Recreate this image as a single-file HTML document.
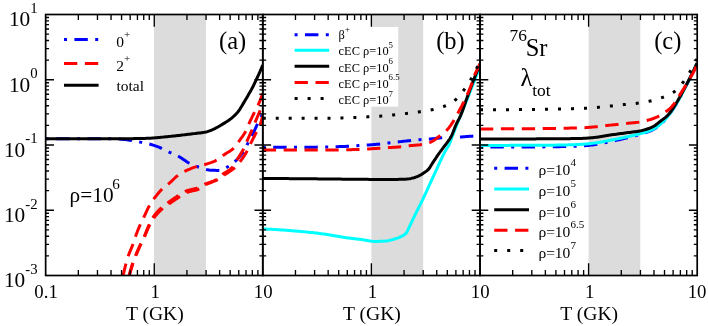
<!DOCTYPE html>
<html><head><meta charset="utf-8"><title>chart</title>
<style>
html,body{margin:0;padding:0;background:#fff;}
body{width:708px;height:326px;overflow:hidden;font-family:"Liberation Serif",serif;}
svg{display:block;will-change:transform;}
</style></head>
<body>
<svg width="708" height="326" viewBox="0 0 708 326" font-family="Liberation Serif, serif" fill="#000">
<defs>
<clipPath id="cp0"><rect x="45.65" y="14.5" width="217.12999999999997" height="261.0"/></clipPath>
<clipPath id="cp1"><rect x="262.78" y="14.5" width="217.22000000000003" height="261.0"/></clipPath>
<clipPath id="cp2"><rect x="480.0" y="14.5" width="217.20000000000005" height="261.0"/></clipPath>
</defs>
<rect width="708" height="326" fill="#fff"/>
<rect x="154.00" y="14.5" width="51.90" height="261.0" fill="#dcdcdc"/>
<rect x="371.40" y="14.5" width="51.75" height="261.0" fill="#dcdcdc"/>
<rect x="588.60" y="14.5" width="51.70" height="261.0" fill="#dcdcdc"/>
<rect x="288" y="27" width="110.2" height="79.6" fill="#fff"/>
<path d="M45.80,138.80 L47.30,138.80 L48.80,138.80 L50.30,138.80 L51.80,138.80 L53.30,138.80 L54.80,138.80 L56.30,138.80 L57.80,138.80 L59.30,138.80 L60.80,138.80 L62.30,138.80 L63.80,138.80 L65.30,138.80 L66.80,138.80 L68.30,138.80 L69.80,138.80 L71.30,138.80 L72.80,138.80 L74.30,138.80 L75.80,138.80 L77.30,138.80 L78.80,138.80 L80.30,138.80 L81.80,138.80 L83.30,138.80 L84.80,138.80 L86.30,138.80 L87.80,138.80 L89.30,138.80 L90.80,138.80 L92.30,138.80 L93.80,138.80 L95.30,138.80 L96.80,138.80 L98.30,138.80 L99.80,138.80 L101.30,138.80 L102.80,138.80 L104.30,138.80 L105.80,138.80 L107.30,138.80 L108.80,138.80 L110.30,138.80 L111.80,138.81 L113.30,138.84 L114.80,138.87 L116.30,138.92 L117.80,138.97 L119.30,139.04 L120.79,139.15 L122.29,139.30 L123.78,139.46 L125.27,139.63 L126.76,139.82 L128.24,140.03 L129.73,140.25 L131.21,140.49 L132.69,140.73 L134.16,140.98 L135.64,141.25 L137.12,141.53 L138.59,141.81 L140.06,142.10 L141.53,142.38 L143.01,142.67 L144.48,142.95 L145.95,143.26 L147.42,143.57 L148.88,143.92 L150.32,144.30 L151.76,144.73 L153.19,145.19 L154.62,145.67 L156.03,146.16 L157.44,146.67 L158.85,147.21 L160.24,147.76 L161.62,148.34 L162.99,148.95 L164.34,149.60 L165.68,150.28 L167.01,150.97 L168.35,151.65 L169.71,152.30 L171.08,152.91 L172.46,153.49 L173.85,154.07 L175.23,154.67 L176.59,155.29 L177.92,155.97 L179.22,156.71 L180.48,157.51 L181.74,158.34 L182.99,159.17 L184.25,159.99 L185.49,160.85 L186.74,161.70 L188.00,162.51 L189.29,163.25 L190.62,163.91 L191.98,164.54 L193.37,165.13 L194.77,165.70 L196.17,166.24 L197.58,166.76 L198.99,167.28 L200.40,167.80 L201.83,168.31 L203.26,168.77 L204.70,169.18 L206.15,169.49 L207.62,169.75 L209.11,169.98 L210.61,170.17 L212.10,170.29 L213.60,170.33 L215.11,170.36 L216.62,170.39 L218.11,170.40 L219.59,170.35 L221.05,170.02 L222.50,169.50 L223.90,168.94 L225.25,168.32 L226.56,167.56 L227.84,166.78 L229.12,165.99 L230.38,165.16 L231.60,164.30 L232.78,163.38 L233.93,162.42 L235.05,161.41 L236.13,160.38 L237.19,159.31 L238.22,158.22 L239.23,157.10 L240.20,155.96 L241.16,154.81 L242.10,153.63 L242.99,152.42 L243.80,151.17 L244.54,149.88 L245.25,148.56 L245.93,147.21 L246.59,145.86 L247.27,144.51 L247.96,143.18 L248.68,141.86 L249.41,140.55 L250.13,139.24 L250.86,137.92 L251.57,136.60 L252.26,135.27 L252.93,133.93 L253.57,132.58 L254.20,131.22 L254.81,129.85 L255.43,128.48 L256.04,127.11 L256.67,125.74 L257.31,124.39 L257.97,123.04 L258.65,121.71 L259.35,120.38 L260.04,119.05 L260.73,117.72 L261.42,116.38 L262.08,115.03 L262.72,113.68 L262.80,113.50" fill="none" stroke="#0000ff" stroke-width="3.0" stroke-linejoin="round" stroke-dasharray="3.0 7.4 13.4 7.4" stroke-dashoffset="0.00" clip-path="url(#cp0)"/>
<path d="M121.30,283.00 L121.65,281.54 L122.00,280.08 L122.35,278.62 L122.70,277.17 L123.05,275.71 L123.40,274.25 L123.74,272.79 L124.08,271.33 L124.42,269.86 L124.77,268.40 L125.12,266.95 L125.48,265.49 L125.85,264.04 L126.24,262.59 L126.64,261.14 L127.06,259.70 L127.49,258.26 L127.95,256.84 L128.45,255.43 L128.97,254.02 L129.52,252.63 L130.09,251.24 L130.67,249.85 L131.25,248.47 L131.83,247.08 L132.39,245.69 L132.93,244.29 L133.44,242.88 L133.92,241.46 L134.37,240.03 L134.83,238.60 L135.30,237.17 L135.81,235.76 L136.32,234.35 L136.84,232.95 L137.38,231.54 L137.92,230.14 L138.48,228.75 L139.05,227.36 L139.63,225.97 L140.22,224.60 L140.83,223.23 L141.47,221.88 L142.15,220.54 L142.84,219.20 L143.52,217.87 L144.17,216.52 L144.81,215.15 L145.44,213.79 L146.06,212.41 L146.69,211.05 L147.32,209.68 L147.97,208.33 L148.65,207.00 L149.36,205.68 L150.10,204.39 L150.89,203.12 L151.72,201.87 L152.58,200.63 L153.46,199.42 L154.36,198.22 L155.27,197.03 L156.20,195.84 L157.13,194.66 L158.09,193.49 L159.07,192.34 L160.07,191.21 L161.08,190.11 L162.13,189.04 L163.20,188.02 L164.33,187.05 L165.51,186.12 L166.72,185.22 L167.92,184.32 L169.10,183.38 L170.24,182.40 L171.34,181.38 L172.44,180.33 L173.52,179.28 L174.61,178.24 L175.72,177.22 L176.85,176.24 L178.01,175.32 L179.22,174.47 L180.48,173.66 L181.78,172.89 L183.10,172.15 L184.44,171.46 L185.78,170.82 L187.14,170.20 L188.52,169.60 L189.90,169.02 L191.30,168.46 L192.71,167.93 L194.13,167.42 L195.56,166.94 L196.99,166.49 L198.42,166.07 L199.87,165.70 L201.34,165.38 L202.81,165.07 L204.27,164.72 L205.71,164.31 L207.15,163.88 L208.60,163.42 L210.05,162.94 L211.48,162.43 L212.89,161.88 L214.28,161.30 L215.64,160.69 L216.96,160.04 L218.23,159.33 L219.44,158.47 L220.61,157.52 L221.77,156.53 L222.95,155.58 L224.18,154.71 L225.45,153.88 L226.74,153.07 L228.04,152.28 L229.33,151.47 L230.59,150.64 L231.81,149.78 L232.96,148.86 L234.02,147.88 L235.01,146.80 L235.95,145.63 L236.84,144.40 L237.71,143.15 L238.58,141.91 L239.45,140.69 L240.33,139.47 L241.21,138.24 L242.08,137.01 L242.93,135.76 L243.75,134.51 L244.54,133.23 L245.29,131.94 L245.99,130.63 L246.63,129.28 L247.22,127.90 L247.79,126.51 L248.36,125.12 L248.95,123.73 L249.57,122.37 L250.21,121.01 L250.85,119.66 L251.50,118.31 L252.16,116.96 L252.82,115.61 L253.48,114.26 L254.15,112.92 L254.81,111.57 L255.49,110.23 L256.18,108.90 L256.87,107.57 L257.54,106.23 L258.19,104.88 L258.80,103.51 L259.39,102.13 L259.96,100.74 L260.51,99.35 L261.06,97.95 L261.60,96.55 L262.15,95.15 L262.70,93.76 L262.80,93.50" fill="none" stroke="#ff0000" stroke-width="3.0" stroke-linejoin="round" stroke-dasharray="13.3 7.6" stroke-dashoffset="14.24" clip-path="url(#cp0)"/>
<path d="M126.80,283.00 L127.23,281.56 L127.66,280.13 L128.10,278.69 L128.53,277.25 L128.96,275.82 L129.38,274.38 L129.80,272.94 L130.21,271.49 L130.62,270.05 L131.04,268.61 L131.46,267.17 L131.89,265.73 L132.34,264.30 L132.81,262.88 L133.30,261.46 L133.82,260.05 L134.35,258.65 L134.90,257.25 L135.46,255.86 L136.03,254.48 L136.61,253.10 L137.21,251.72 L137.81,250.34 L138.42,248.97 L139.03,247.60 L139.65,246.23 L140.27,244.87 L140.89,243.50 L141.52,242.14 L142.17,240.79 L142.82,239.44 L143.46,238.08 L144.08,236.72 L144.68,235.34 L145.26,233.96 L145.83,232.57 L146.39,231.17 L146.95,229.78 L147.52,228.39 L148.10,227.01 L148.70,225.63 L149.32,224.27 L149.96,222.92 L150.62,221.56 L151.31,220.21 L152.04,218.91 L152.83,217.65 L153.67,216.43 L154.55,215.21 L155.48,214.02 L156.45,212.85 L157.45,211.71 L158.48,210.60 L159.53,209.52 L160.60,208.48 L161.68,207.47 L162.83,206.52 L164.01,205.61 L165.23,204.72 L166.47,203.84 L167.69,202.97 L168.91,202.08 L170.12,201.21 L171.34,200.33 L172.57,199.46 L173.80,198.60 L175.03,197.75 L176.27,196.90 L177.52,196.07 L178.77,195.25 L180.03,194.42 L181.28,193.56 L182.55,192.72 L183.84,191.95 L185.16,191.30 L186.53,190.78 L187.94,190.33 L189.39,189.94 L190.86,189.59 L192.35,189.25 L193.83,188.91 L195.30,188.54 L196.74,188.13 L198.15,187.66 L199.52,187.08 L200.85,186.39 L202.16,185.65 L203.48,184.91 L204.83,184.24 L206.21,183.65 L207.63,183.10 L209.07,182.58 L210.52,182.08 L211.95,181.57 L213.37,181.04 L214.75,180.47 L216.08,179.85 L217.35,179.15 L218.53,178.33 L219.63,177.32 L220.68,176.21 L221.75,175.11 L222.87,174.10 L224.08,173.23 L225.36,172.44 L226.67,171.68 L227.97,170.91 L229.22,170.09 L230.39,169.18 L231.53,168.19 L232.62,167.12 L233.61,166.00 L234.47,164.81 L235.22,163.53 L235.92,162.18 L236.60,160.82 L237.31,159.50 L238.07,158.20 L238.86,156.92 L239.65,155.64 L240.45,154.37 L241.24,153.09 L242.01,151.80 L242.77,150.51 L243.49,149.20 L244.16,147.87 L244.80,146.51 L245.39,145.14 L245.97,143.75 L246.53,142.36 L247.10,140.97 L247.69,139.59 L248.29,138.21 L248.90,136.84 L249.52,135.47 L250.13,134.10 L250.74,132.73 L251.35,131.36 L251.95,129.99 L252.54,128.61 L253.12,127.23 L253.69,125.84 L254.25,124.45 L254.81,123.06 L255.38,121.67 L255.96,120.28 L256.54,118.90 L257.13,117.52 L257.72,116.15 L258.32,114.77 L258.91,113.39 L259.50,112.01 L260.09,110.63 L260.66,109.25 L261.24,107.86 L261.80,106.47 L262.37,105.08 L262.80,104.00" fill="none" stroke="#ff0000" stroke-width="3.0" stroke-linejoin="round" stroke-dasharray="13.3 7.6" stroke-dashoffset="13.20" clip-path="url(#cp0)"/>
<path d="M127.10,283.00 L127.53,281.56 L127.96,280.13 L128.40,278.69 L128.83,277.25 L129.26,275.82 L129.68,274.38 L130.10,272.94 L130.51,271.49 L130.92,270.05 L131.34,268.61 L131.76,267.17 L132.19,265.73 L132.64,264.30 L133.11,262.88 L133.60,261.46 L134.12,260.05 L134.65,258.65 L135.20,257.25 L135.76,255.86 L136.33,254.48 L136.91,253.09 L137.50,251.71 L138.10,250.34 L138.70,248.96 L139.32,247.60 L139.94,246.23 L140.56,244.86 L141.19,243.50 L141.84,242.15 L142.50,240.80 L143.16,239.46 L143.82,238.11 L144.47,236.76 L145.09,235.39 L145.68,234.01 L146.27,232.63 L146.85,231.24 L147.43,229.85 L148.03,228.47 L148.64,227.11 L149.27,225.75 L149.94,224.41 L150.64,223.09 L151.38,221.77 L152.15,220.48 L152.97,219.22 L153.83,218.01 L154.73,216.82 L155.67,215.65 L156.65,214.50 L157.66,213.37 L158.70,212.26 L159.76,211.19 L160.84,210.15 L161.94,209.15 L163.06,208.18 L164.24,207.27 L165.46,206.39 L166.70,205.52 L167.95,204.67 L169.18,203.81 L170.41,202.95 L171.64,202.09 L172.87,201.24 L174.11,200.39 L175.35,199.55 L176.60,198.72 L177.85,197.89 L179.11,197.07 L180.37,196.26 L181.63,195.41 L182.89,194.56 L184.16,193.75 L185.46,193.03 L186.81,192.44 L188.21,191.97 L189.66,191.56 L191.14,191.21 L192.63,190.88 L194.13,190.55 L195.61,190.20 L197.06,189.80 L198.45,189.34 L199.78,188.77 L201.03,187.99 L202.23,187.06 L203.43,186.10 L204.66,185.22 L205.96,184.50 L207.31,183.87 L208.70,183.30 L210.11,182.76 L211.54,182.23 L212.96,181.71 L214.37,181.17 L215.76,180.60 L217.11,179.97 L218.41,179.27 L219.65,178.46 L220.86,177.56 L222.06,176.64 L223.26,175.73 L224.49,174.87 L225.75,174.04 L227.02,173.24 L228.28,172.43 L229.54,171.61 L230.77,170.76 L231.98,169.88 L233.19,168.97 L234.36,168.02 L235.47,167.03 L236.52,165.97 L237.53,164.86 L238.50,163.70 L239.44,162.53 L240.35,161.34 L241.25,160.14 L242.13,158.92 L242.99,157.69 L243.84,156.44 L244.66,155.18 L245.45,153.90 L246.21,152.61 L246.95,151.31 L247.63,149.99 L248.28,148.64 L248.90,147.27 L249.51,145.89 L250.14,144.53 L250.80,143.18 L251.47,141.84 L252.15,140.50 L252.83,139.16 L253.51,137.83 L254.20,136.49 L254.89,135.16 L255.58,133.83 L256.29,132.51 L257.03,131.19 L257.78,129.88 L258.50,128.56 L259.17,127.23 L259.75,125.86 L260.26,124.46 L260.71,123.03 L261.14,121.59 L261.56,120.14 L261.99,118.70 L262.42,117.26 L262.80,116.00" fill="none" stroke="#ff0000" stroke-width="3.0" stroke-linejoin="round" stroke-dasharray="13.3 7.6" stroke-dashoffset="13.20" clip-path="url(#cp0)"/>
<path d="M45.80,138.80 L47.30,138.80 L48.80,138.80 L50.30,138.80 L51.80,138.80 L53.30,138.80 L54.80,138.80 L56.30,138.80 L57.80,138.80 L59.30,138.80 L60.80,138.80 L62.30,138.80 L63.80,138.80 L65.30,138.80 L66.80,138.80 L68.30,138.80 L69.80,138.80 L71.30,138.80 L72.80,138.80 L74.30,138.80 L75.80,138.80 L77.30,138.80 L78.80,138.80 L80.30,138.80 L81.80,138.80 L83.30,138.80 L84.80,138.80 L86.30,138.80 L87.80,138.80 L89.30,138.80 L90.80,138.80 L92.30,138.80 L93.80,138.80 L95.30,138.80 L96.80,138.80 L98.30,138.80 L99.80,138.80 L101.30,138.80 L102.80,138.80 L104.30,138.80 L105.80,138.80 L107.30,138.80 L108.80,138.80 L110.30,138.80 L111.80,138.80 L113.30,138.80 L114.80,138.80 L116.30,138.80 L117.80,138.80 L119.30,138.80 L120.80,138.80 L122.30,138.79 L123.80,138.78 L125.30,138.76 L126.80,138.74 L128.30,138.72 L129.80,138.69 L131.30,138.67 L132.80,138.64 L134.30,138.61 L135.80,138.59 L137.30,138.56 L138.80,138.53 L140.30,138.50 L141.80,138.46 L143.30,138.42 L144.80,138.38 L146.30,138.33 L147.80,138.28 L149.29,138.23 L150.79,138.16 L152.29,138.08 L153.78,137.98 L155.28,137.86 L156.77,137.72 L158.27,137.58 L159.76,137.43 L161.25,137.28 L162.75,137.12 L164.24,136.97 L165.73,136.83 L167.23,136.68 L168.72,136.53 L170.21,136.38 L171.70,136.22 L173.19,136.06 L174.68,135.89 L176.18,135.73 L177.67,135.56 L179.16,135.40 L180.65,135.23 L182.14,135.06 L183.63,134.88 L185.12,134.71 L186.61,134.53 L188.10,134.35 L189.59,134.17 L191.07,133.99 L192.56,133.80 L194.05,133.62 L195.54,133.43 L197.04,133.26 L198.53,133.10 L200.03,132.93 L201.52,132.75 L203.00,132.54 L204.47,132.30 L205.93,132.00 L207.38,131.59 L208.81,131.11 L210.22,130.59 L211.62,130.06 L213.00,129.47 L214.36,128.83 L215.70,128.15 L217.02,127.45 L218.33,126.71 L219.62,125.95 L220.90,125.16 L222.19,124.39 L223.48,123.62 L224.77,122.85 L226.05,122.07 L227.31,121.26 L228.55,120.42 L229.78,119.55 L230.98,118.65 L232.16,117.72 L233.29,116.74 L234.39,115.72 L235.46,114.66 L236.50,113.57 L237.49,112.44 L238.41,111.27 L239.27,110.06 L240.09,108.81 L240.88,107.53 L241.66,106.23 L242.43,104.93 L243.21,103.65 L243.99,102.37 L244.76,101.08 L245.52,99.79 L246.27,98.49 L247.02,97.19 L247.77,95.89 L248.53,94.60 L249.29,93.30 L250.04,92.00 L250.79,90.70 L251.52,89.39 L252.22,88.07 L252.91,86.74 L253.57,85.39 L254.23,84.04 L254.87,82.69 L255.51,81.33 L256.15,79.97 L256.78,78.61 L257.41,77.25 L258.04,75.89 L258.65,74.52 L259.27,73.15 L259.88,71.78 L260.48,70.41 L261.08,69.03 L261.67,67.65 L262.26,66.27 L262.80,65.00" fill="none" stroke="#000" stroke-width="3.0" stroke-linejoin="round" clip-path="url(#cp0)"/>
<path d="M262.80,147.20 L264.30,147.20 L265.80,147.20 L267.30,147.20 L268.80,147.20 L270.30,147.20 L271.80,147.20 L273.30,147.20 L274.80,147.20 L276.30,147.20 L277.80,147.20 L279.30,147.20 L280.80,147.20 L282.30,147.20 L283.80,147.20 L285.30,147.20 L286.80,147.20 L288.30,147.20 L289.80,147.20 L291.30,147.20 L292.80,147.20 L294.30,147.20 L295.80,147.20 L297.30,147.20 L298.80,147.20 L300.30,147.20 L301.80,147.20 L303.30,147.20 L304.80,147.19 L306.30,147.19 L307.80,147.18 L309.30,147.17 L310.80,147.17 L312.30,147.16 L313.80,147.15 L315.30,147.14 L316.80,147.13 L318.30,147.11 L319.80,147.10 L321.30,147.09 L322.80,147.07 L324.30,147.04 L325.80,147.01 L327.30,146.98 L328.80,146.95 L330.30,146.91 L331.80,146.86 L333.30,146.82 L334.80,146.77 L336.30,146.72 L337.80,146.68 L339.29,146.62 L340.79,146.57 L342.29,146.51 L343.79,146.45 L345.29,146.38 L346.79,146.30 L348.28,146.22 L349.78,146.13 L351.28,146.04 L352.78,145.95 L354.27,145.86 L355.77,145.77 L357.27,145.67 L358.77,145.58 L360.26,145.48 L361.76,145.39 L363.26,145.30 L364.75,145.20 L366.25,145.10 L367.75,145.00 L369.25,144.90 L370.74,144.79 L372.24,144.68 L373.73,144.57 L375.23,144.44 L376.72,144.32 L378.22,144.18 L379.71,144.03 L381.20,143.85 L382.68,143.67 L384.17,143.48 L385.66,143.29 L387.15,143.10 L388.64,142.93 L390.13,142.76 L391.62,142.59 L393.11,142.43 L394.60,142.27 L396.10,142.11 L397.59,141.94 L399.08,141.78 L400.57,141.62 L402.06,141.45 L403.55,141.29 L405.04,141.12 L406.53,140.96 L408.02,140.80 L409.52,140.65 L411.01,140.50 L412.50,140.35 L414.00,140.21 L415.49,140.08 L416.98,139.95 L418.48,139.82 L419.97,139.70 L421.47,139.59 L422.97,139.49 L424.46,139.39 L425.96,139.29 L427.46,139.19 L428.95,139.08 L430.45,138.96 L431.94,138.82 L433.43,138.66 L434.92,138.49 L436.42,138.32 L437.91,138.16 L439.40,138.01 L440.89,137.88 L442.39,137.78 L443.88,137.69 L445.38,137.61 L446.88,137.54 L448.38,137.48 L449.88,137.42 L451.38,137.37 L452.88,137.31 L454.38,137.25 L455.88,137.19 L457.37,137.13 L458.87,137.06 L460.37,136.98 L461.87,136.89 L463.36,136.78 L464.86,136.67 L466.36,136.56 L467.85,136.44 L469.35,136.33 L470.84,136.23 L472.34,136.14 L473.84,136.06 L475.34,135.99 L476.84,135.92 L478.33,135.86 L479.83,135.81 L480.00,135.80" fill="none" stroke="#0000ff" stroke-width="3.0" stroke-linejoin="round" stroke-dasharray="3.0 7.4 13.4 7.4" stroke-dashoffset="0.00" clip-path="url(#cp1)"/>
<path d="M262.80,229.00 L264.30,229.05 L265.81,229.10 L267.31,229.16 L268.81,229.22 L270.31,229.29 L271.81,229.36 L273.31,229.44 L274.81,229.52 L276.31,229.61 L277.81,229.70 L279.31,229.79 L280.81,229.89 L282.30,229.99 L283.80,230.09 L285.30,230.20 L286.79,230.31 L288.29,230.43 L289.78,230.55 L291.28,230.67 L292.77,230.79 L294.27,230.92 L295.76,231.05 L297.26,231.18 L298.75,231.31 L300.24,231.45 L301.74,231.59 L303.23,231.73 L304.72,231.87 L306.21,232.01 L307.70,232.16 L309.19,232.30 L310.68,232.45 L312.17,232.60 L313.66,232.75 L315.15,232.91 L316.64,233.08 L318.12,233.26 L319.61,233.46 L321.09,233.67 L322.58,233.88 L324.06,234.10 L325.54,234.33 L327.02,234.56 L328.51,234.80 L329.99,235.04 L331.47,235.29 L332.95,235.54 L334.43,235.78 L335.91,236.03 L337.39,236.28 L338.88,236.53 L340.36,236.77 L341.84,237.01 L343.32,237.24 L344.81,237.47 L346.29,237.69 L347.78,237.90 L349.26,238.10 L350.75,238.30 L352.24,238.48 L353.73,238.66 L355.22,238.83 L356.71,239.01 L358.20,239.18 L359.69,239.36 L361.17,239.56 L362.66,239.79 L364.15,240.04 L365.63,240.29 L367.12,240.55 L368.60,240.79 L370.09,241.01 L371.58,241.19 L373.07,241.32 L374.56,241.39 L376.05,241.40 L377.55,241.38 L379.06,241.34 L380.56,241.29 L382.06,241.22 L383.56,241.15 L385.04,241.06 L386.53,240.91 L388.01,240.67 L389.49,240.38 L390.97,240.02 L392.43,239.63 L393.88,239.21 L395.32,238.77 L396.74,238.32 L398.15,237.83 L399.55,237.26 L400.92,236.62 L402.26,235.92 L403.54,235.17 L404.82,234.33 L405.98,233.36 L406.83,232.22 L407.50,230.88 L408.11,229.46 L408.75,228.09 L409.41,226.74 L410.06,225.39 L410.70,224.03 L411.35,222.68 L411.99,221.32 L412.63,219.97 L413.27,218.61 L413.92,217.26 L414.57,215.90 L415.22,214.55 L415.88,213.21 L416.55,211.86 L417.22,210.52 L417.89,209.18 L418.57,207.84 L419.24,206.50 L419.92,205.16 L420.59,203.82 L421.26,202.48 L421.92,201.13 L422.57,199.78 L423.22,198.43 L423.86,197.07 L424.50,195.72 L425.13,194.36 L425.76,192.99 L426.39,191.63 L427.01,190.27 L427.63,188.90 L428.25,187.54 L428.87,186.17 L429.49,184.80 L430.12,183.44 L430.74,182.07 L431.36,180.71 L431.99,179.35 L432.61,177.98 L433.24,176.62 L433.87,175.26 L434.50,173.90 L435.13,172.54 L435.76,171.18 L436.39,169.81 L437.01,168.45 L437.62,167.08 L438.23,165.71 L438.85,164.34 L439.48,162.98 L440.12,161.62 L440.76,160.26 L441.40,158.91 L442.04,157.55 L442.69,156.19 L443.35,154.85 L444.03,153.51 L444.72,152.17 L445.43,150.86 L446.16,149.55 L446.98,148.29 L447.81,147.03 L448.57,145.75 L449.22,144.41 L449.81,143.05 L450.37,141.65 L450.90,140.25 L451.41,138.83 L451.92,137.41 L452.43,135.99 L452.97,134.59 L453.51,133.19 L454.06,131.79 L454.60,130.39 L455.15,129.00 L455.69,127.60 L456.24,126.20 L456.79,124.80 L457.34,123.41 L457.89,122.02 L458.45,120.62 L459.01,119.23 L459.57,117.84 L460.13,116.45 L460.69,115.06 L461.26,113.67 L461.82,112.28 L462.39,110.89 L462.96,109.50 L463.52,108.11 L464.09,106.72 L464.65,105.33 L465.21,103.94 L465.78,102.55 L466.34,101.16 L466.89,99.77 L467.45,98.37 L468.00,96.98 L468.56,95.59 L469.11,94.19 L469.66,92.80 L470.21,91.40 L470.76,90.01 L471.31,88.61 L471.86,87.21 L472.41,85.82 L472.96,84.42 L473.51,83.03 L474.05,81.63 L474.60,80.23 L475.15,78.84 L475.70,77.44 L476.25,76.05 L476.80,74.65 L477.35,73.26 L477.90,71.86 L478.45,70.46 L478.99,69.07 L479.54,67.67 L480.00,66.50" fill="none" stroke="#00ffff" stroke-width="3.0" stroke-linejoin="round" clip-path="url(#cp1)"/>
<path d="M262.80,178.40 L264.30,178.41 L265.80,178.43 L267.30,178.44 L268.80,178.45 L270.30,178.47 L271.80,178.48 L273.30,178.49 L274.80,178.51 L276.30,178.52 L277.80,178.53 L279.30,178.54 L280.80,178.56 L282.30,178.57 L283.80,178.58 L285.30,178.60 L286.80,178.61 L288.30,178.62 L289.80,178.64 L291.30,178.65 L292.80,178.66 L294.30,178.68 L295.80,178.69 L297.30,178.70 L298.80,178.72 L300.30,178.73 L301.80,178.74 L303.30,178.75 L304.80,178.77 L306.30,178.78 L307.80,178.79 L309.30,178.81 L310.80,178.82 L312.30,178.83 L313.80,178.85 L315.30,178.86 L316.80,178.87 L318.30,178.89 L319.80,178.90 L321.30,178.91 L322.80,178.93 L324.30,178.94 L325.80,178.95 L327.30,178.97 L328.80,178.99 L330.30,179.00 L331.80,179.02 L333.30,179.04 L334.80,179.05 L336.30,179.07 L337.80,179.09 L339.30,179.10 L340.80,179.12 L342.30,179.14 L343.80,179.16 L345.30,179.17 L346.80,179.19 L348.30,179.21 L349.80,179.22 L351.30,179.24 L352.80,179.25 L354.30,179.27 L355.80,179.28 L357.30,179.30 L358.80,179.31 L360.30,179.32 L361.80,179.33 L363.30,179.34 L364.80,179.35 L366.30,179.36 L367.80,179.37 L369.30,179.38 L370.80,179.39 L372.30,179.39 L373.80,179.39 L375.30,179.40 L376.80,179.40 L378.30,179.40 L379.80,179.40 L381.30,179.40 L382.80,179.40 L384.30,179.40 L385.80,179.40 L387.30,179.40 L388.80,179.40 L390.30,179.40 L391.80,179.40 L393.30,179.40 L394.80,179.40 L396.30,179.40 L397.80,179.38 L399.30,179.35 L400.80,179.31 L402.30,179.26 L403.80,179.20 L405.30,179.13 L406.79,179.05 L408.28,178.89 L409.77,178.66 L411.25,178.38 L412.72,178.06 L414.16,177.70 L415.59,177.22 L417.00,176.67 L418.37,176.07 L419.71,175.42 L421.02,174.69 L422.31,173.90 L423.57,173.07 L424.81,172.23 L426.05,171.37 L427.27,170.45 L428.35,169.45 L429.27,168.31 L430.10,167.07 L430.89,165.76 L431.67,164.46 L432.50,163.20 L433.33,161.95 L434.16,160.70 L434.99,159.45 L435.81,158.20 L436.65,156.95 L437.48,155.70 L438.33,154.46 L439.18,153.23 L440.04,152.00 L440.92,150.79 L441.82,149.59 L442.74,148.40 L443.65,147.21 L444.54,146.00 L445.45,144.80 L446.37,143.60 L447.29,142.40 L448.19,141.19 L449.06,139.96 L449.89,138.72 L450.65,137.45 L451.34,136.15 L451.98,134.80 L452.57,133.43 L453.13,132.04 L453.67,130.63 L454.20,129.22 L454.74,127.80 L455.29,126.40 L455.88,125.01 L456.51,123.65 L457.18,122.31 L457.88,120.98 L458.59,119.66 L459.29,118.33 L459.95,116.98 L460.56,115.62 L461.14,114.24 L461.69,112.86 L462.23,111.46 L462.75,110.05 L463.25,108.64 L463.75,107.22 L464.24,105.80 L464.72,104.38 L465.21,102.95 L465.70,101.53 L466.19,100.11 L466.69,98.69 L467.20,97.28 L467.71,95.87 L468.23,94.47 L468.75,93.06 L469.27,91.65 L469.79,90.24 L470.31,88.84 L470.83,87.43 L471.35,86.02 L471.88,84.62 L472.41,83.22 L472.94,81.81 L473.47,80.41 L474.01,79.01 L474.55,77.61 L475.10,76.22 L475.65,74.82 L476.21,73.43 L476.77,72.04 L477.33,70.65 L477.89,69.25 L478.45,67.86 L479.01,66.47 L479.57,65.08 L480.00,64.00" fill="none" stroke="#000" stroke-width="3.0" stroke-linejoin="round" clip-path="url(#cp1)"/>
<path d="M262.78,150.00 L264.28,150.00 L265.78,150.00 L267.28,150.00 L268.78,150.00 L270.28,150.00 L271.78,150.00 L273.28,150.00 L274.78,150.00 L276.28,150.00 L277.78,150.00 L279.28,150.00 L280.78,150.00 L282.28,150.00 L283.78,150.00 L285.28,150.00 L286.78,150.00 L288.28,150.00 L289.78,150.00 L291.28,150.00 L292.78,150.00 L294.28,150.00 L295.78,150.00 L297.28,150.00 L298.78,150.00 L300.28,150.00 L301.78,150.00 L303.28,150.00 L304.78,150.00 L306.28,150.00 L307.78,150.00 L309.28,150.00 L310.78,150.00 L312.28,150.00 L313.78,150.00 L315.28,150.00 L316.78,150.00 L318.28,150.00 L319.78,150.00 L321.28,150.00 L322.78,150.00 L324.28,150.00 L325.78,150.00 L327.28,150.00 L328.78,150.00 L330.28,150.00 L331.78,150.00 L333.28,149.99 L334.78,149.98 L336.28,149.96 L337.78,149.95 L339.28,149.93 L340.78,149.90 L342.28,149.87 L343.78,149.84 L345.28,149.81 L346.78,149.78 L348.28,149.74 L349.78,149.70 L351.28,149.66 L352.78,149.62 L354.28,149.58 L355.78,149.53 L357.28,149.48 L358.78,149.44 L360.27,149.39 L361.77,149.33 L363.27,149.27 L364.77,149.19 L366.26,149.10 L367.76,149.00 L369.26,148.90 L370.76,148.80 L372.25,148.69 L373.75,148.59 L375.25,148.48 L376.74,148.38 L378.24,148.29 L379.74,148.19 L381.23,148.10 L382.73,148.00 L384.23,147.91 L385.73,147.81 L387.22,147.72 L388.72,147.62 L390.22,147.54 L391.72,147.45 L393.21,147.37 L394.71,147.28 L396.21,147.19 L397.71,147.10 L399.20,146.99 L400.70,146.87 L402.19,146.73 L403.68,146.55 L405.16,146.33 L406.65,146.11 L408.13,145.91 L409.62,145.73 L411.12,145.59 L412.62,145.46 L414.11,145.34 L415.61,145.22 L417.11,145.10 L418.60,144.96 L420.09,144.80 L421.57,144.60 L423.05,144.37 L424.53,144.07 L426.01,143.72 L427.46,143.32 L428.88,142.88 L430.26,142.36 L431.60,141.70 L432.92,140.94 L434.20,140.13 L435.44,139.30 L436.64,138.40 L437.81,137.46 L438.97,136.50 L440.15,135.57 L441.35,134.67 L442.54,133.76 L443.72,132.83 L444.90,131.89 L446.05,130.92 L447.11,129.88 L448.10,128.76 L449.04,127.58 L449.94,126.37 L450.82,125.16 L451.67,123.92 L452.50,122.67 L453.30,121.40 L454.07,120.11 L454.82,118.81 L455.54,117.50 L456.26,116.18 L456.97,114.86 L457.68,113.54 L458.39,112.22 L459.10,110.90 L459.82,109.58 L460.52,108.25 L461.23,106.93 L461.93,105.60 L462.62,104.27 L463.29,102.93 L463.96,101.59 L464.62,100.24 L465.28,98.89 L465.92,97.53 L466.55,96.17 L467.16,94.81 L467.77,93.43 L468.37,92.06 L468.96,90.68 L469.55,89.30 L470.12,87.91 L470.68,86.51 L471.22,85.12 L471.74,83.71 L472.24,82.30 L472.70,80.87 L473.13,79.43 L473.56,77.99 L474.02,76.56 L474.53,75.16 L475.12,73.79 L475.75,72.43 L476.43,71.09 L477.12,69.75 L477.80,68.41 L478.47,67.06 L479.09,65.70 L479.67,64.31 L480.00,63.50" fill="none" stroke="#ff0000" stroke-width="3.0" stroke-linejoin="round" stroke-dasharray="13.28 7.588" stroke-dashoffset="0.00" clip-path="url(#cp1)"/>
<path d="M262.80,118.20 L264.30,118.20 L265.80,118.20 L267.30,118.20 L268.80,118.20 L270.30,118.20 L271.80,118.20 L273.30,118.20 L274.80,118.20 L276.30,118.20 L277.80,118.20 L279.30,118.20 L280.80,118.20 L282.30,118.20 L283.80,118.20 L285.30,118.20 L286.80,118.20 L288.30,118.20 L289.80,118.20 L291.30,118.20 L292.80,118.20 L294.30,118.20 L295.80,118.20 L297.30,118.20 L298.80,118.20 L300.30,118.20 L301.80,118.20 L303.30,118.20 L304.80,118.20 L306.30,118.20 L307.80,118.20 L309.30,118.20 L310.80,118.20 L312.30,118.20 L313.80,118.20 L315.30,118.20 L316.80,118.20 L318.30,118.20 L319.80,118.20 L321.30,118.20 L322.80,118.20 L324.30,118.20 L325.80,118.20 L327.30,118.20 L328.80,118.20 L330.30,118.20 L331.80,118.18 L333.30,118.16 L334.80,118.13 L336.30,118.09 L337.80,118.04 L339.30,117.99 L340.80,117.94 L342.30,117.89 L343.80,117.84 L345.29,117.79 L346.79,117.74 L348.29,117.69 L349.79,117.63 L351.29,117.57 L352.79,117.51 L354.29,117.45 L355.79,117.39 L357.29,117.32 L358.78,117.25 L360.28,117.19 L361.78,117.12 L363.28,117.06 L364.78,116.99 L366.28,116.92 L367.78,116.86 L369.28,116.79 L370.77,116.72 L372.27,116.64 L373.77,116.57 L375.27,116.48 L376.77,116.40 L378.26,116.31 L379.76,116.22 L381.25,116.11 L382.75,116.00 L384.24,115.88 L385.74,115.74 L387.23,115.61 L388.73,115.46 L390.22,115.31 L391.71,115.16 L393.20,115.01 L394.70,114.85 L396.19,114.69 L397.68,114.53 L399.17,114.35 L400.66,114.18 L402.15,114.00 L403.64,113.81 L405.13,113.63 L406.61,113.45 L408.10,113.27 L409.59,113.08 L411.08,112.90 L412.57,112.71 L414.06,112.52 L415.54,112.32 L417.03,112.12 L418.52,111.91 L420.00,111.70 L421.49,111.49 L422.97,111.27 L424.46,111.05 L425.95,110.82 L427.43,110.58 L428.91,110.33 L430.38,110.06 L431.85,109.77 L433.31,109.46 L434.78,109.12 L436.24,108.76 L437.70,108.37 L439.16,107.95 L440.60,107.51 L442.02,107.04 L443.42,106.54 L444.79,106.00 L446.17,105.42 L447.55,104.78 L448.91,104.09 L450.26,103.35 L451.57,102.57 L452.84,101.75 L454.07,100.90 L455.23,100.01 L456.33,99.09 L457.39,98.07 L458.41,96.99 L459.40,95.85 L460.36,94.66 L461.30,93.45 L462.21,92.22 L463.12,90.99 L464.01,89.79 L464.89,88.58 L465.76,87.36 L466.62,86.12 L467.45,84.88 L468.27,83.61 L469.08,82.34 L469.87,81.07 L470.64,79.78 L471.40,78.49 L472.13,77.19 L472.86,75.87 L473.57,74.55 L474.26,73.22 L474.94,71.88 L475.62,70.54 L476.28,69.19 L476.93,67.84 L477.57,66.48 L478.20,65.12 L478.81,63.75 L479.41,62.38 L480.00,61.00" fill="none" stroke="#000" stroke-width="3.0" stroke-linejoin="round" stroke-dasharray="2.987 9.957" stroke-dashoffset="0.00" clip-path="url(#cp1)"/>
<path d="M480.00,147.00 L481.50,147.00 L483.00,147.00 L484.50,147.00 L486.00,147.00 L487.50,147.00 L489.00,147.00 L490.50,147.00 L492.00,147.00 L493.50,146.99 L495.00,146.99 L496.50,146.99 L498.00,146.99 L499.50,146.99 L501.00,146.99 L502.50,146.99 L504.00,146.98 L505.50,146.98 L507.00,146.98 L508.50,146.98 L510.00,146.97 L511.50,146.97 L513.00,146.97 L514.50,146.97 L516.00,146.96 L517.50,146.96 L519.00,146.96 L520.50,146.95 L522.00,146.95 L523.50,146.95 L525.00,146.94 L526.50,146.94 L528.00,146.94 L529.50,146.93 L531.00,146.93 L532.50,146.92 L534.00,146.92 L535.50,146.91 L537.00,146.91 L538.50,146.90 L540.00,146.90 L541.50,146.89 L543.00,146.89 L544.50,146.87 L546.00,146.86 L547.50,146.85 L549.00,146.83 L550.50,146.81 L552.00,146.79 L553.50,146.76 L555.00,146.74 L556.50,146.71 L558.00,146.68 L559.50,146.65 L561.00,146.62 L562.50,146.59 L564.00,146.55 L565.50,146.52 L567.00,146.48 L568.50,146.44 L570.00,146.40 L571.49,146.36 L572.99,146.30 L574.49,146.24 L575.99,146.18 L577.49,146.10 L578.99,146.02 L580.49,145.93 L581.99,145.84 L583.49,145.74 L584.98,145.63 L586.48,145.52 L587.97,145.40 L589.46,145.27 L590.95,145.11 L592.44,144.93 L593.93,144.74 L595.42,144.52 L596.90,144.30 L598.38,144.06 L599.86,143.82 L601.34,143.56 L602.81,143.27 L604.28,142.96 L605.74,142.64 L607.21,142.32 L608.68,142.00 L610.14,141.69 L611.61,141.37 L613.08,141.06 L614.54,140.74 L616.01,140.41 L617.47,140.09 L618.94,139.76 L620.40,139.43 L621.86,139.09 L623.32,138.75 L624.78,138.40 L626.24,138.05 L627.70,137.70 L629.16,137.35 L630.62,137.00 L632.07,136.63 L633.53,136.27 L634.98,135.89 L636.43,135.51 L637.88,135.11 L639.32,134.71 L640.76,134.29 L642.19,133.85 L643.62,133.39 L645.05,132.92 L646.46,132.42 L647.87,131.89 L649.27,131.35 L650.66,130.77 L652.03,130.16 L653.36,129.49 L654.66,128.75 L655.93,127.94 L657.17,127.08 L658.38,126.17 L659.55,125.23 L660.67,124.26 L661.76,123.25 L662.83,122.19 L663.87,121.10 L664.89,119.98 L665.88,118.84 L666.85,117.68 L667.79,116.52 L668.71,115.35 L669.60,114.15 L670.48,112.94 L671.35,111.71 L672.19,110.47 L673.02,109.21 L673.84,107.94 L674.64,106.67 L675.43,105.39 L676.21,104.11 L676.99,102.82 L677.75,101.54 L678.49,100.24 L679.23,98.93 L679.95,97.62 L680.66,96.30 L681.37,94.97 L682.07,93.64 L682.76,92.31 L683.45,90.97 L684.13,89.64 L684.82,88.30 L685.50,86.96 L686.19,85.63 L686.87,84.30 L687.56,82.96 L688.24,81.63 L688.93,80.29 L689.61,78.95 L690.28,77.61 L690.96,76.27 L691.62,74.93 L692.29,73.58 L692.95,72.24 L693.60,70.89 L694.25,69.53 L694.89,68.18 L695.52,66.82 L696.14,65.45 L696.75,64.08 L697.00,63.50" fill="none" stroke="#0000ff" stroke-width="3.0" stroke-linejoin="round" stroke-dasharray="3.0 7.4 13.4 7.4" stroke-dashoffset="0.00" clip-path="url(#cp2)"/>
<path d="M480.00,145.40 L481.50,145.40 L483.00,145.40 L484.50,145.40 L486.00,145.40 L487.50,145.40 L489.00,145.40 L490.50,145.40 L492.00,145.40 L493.50,145.39 L495.00,145.39 L496.50,145.39 L498.00,145.39 L499.50,145.39 L501.00,145.39 L502.50,145.39 L504.00,145.38 L505.50,145.38 L507.00,145.38 L508.50,145.38 L510.00,145.37 L511.50,145.37 L513.00,145.37 L514.50,145.37 L516.00,145.36 L517.50,145.36 L519.00,145.36 L520.50,145.35 L522.00,145.35 L523.50,145.35 L525.00,145.34 L526.50,145.34 L528.00,145.34 L529.50,145.33 L531.00,145.33 L532.50,145.32 L534.00,145.32 L535.50,145.31 L537.00,145.31 L538.50,145.30 L540.00,145.30 L541.50,145.29 L543.00,145.29 L544.50,145.27 L546.00,145.26 L547.50,145.25 L549.00,145.23 L550.50,145.21 L552.00,145.19 L553.50,145.16 L555.00,145.14 L556.50,145.11 L558.00,145.08 L559.50,145.05 L561.00,145.02 L562.50,144.99 L564.00,144.95 L565.50,144.92 L567.00,144.88 L568.50,144.84 L570.00,144.80 L571.49,144.76 L572.99,144.70 L574.49,144.64 L575.99,144.58 L577.49,144.50 L578.99,144.42 L580.49,144.33 L581.99,144.24 L583.49,144.14 L584.98,144.03 L586.48,143.92 L587.97,143.80 L589.46,143.67 L590.95,143.51 L592.44,143.33 L593.93,143.12 L595.41,142.91 L596.90,142.68 L598.38,142.45 L599.86,142.22 L601.34,141.98 L602.82,141.72 L604.29,141.44 L605.77,141.15 L607.24,140.87 L608.71,140.59 L610.19,140.30 L611.66,140.02 L613.13,139.73 L614.60,139.44 L616.08,139.15 L617.55,138.86 L619.02,138.56 L620.49,138.26 L621.95,137.95 L623.42,137.64 L624.89,137.32 L626.35,137.01 L627.82,136.69 L629.29,136.36 L630.75,136.04 L632.22,135.71 L633.68,135.37 L635.14,135.02 L636.60,134.67 L638.05,134.30 L639.50,133.92 L640.95,133.53 L642.39,133.12 L643.83,132.69 L645.26,132.24 L646.68,131.76 L648.10,131.27 L649.51,130.74 L650.91,130.19 L652.29,129.59 L653.62,128.94 L654.93,128.21 L656.21,127.41 L657.46,126.56 L658.67,125.66 L659.84,124.73 L660.97,123.77 L662.07,122.76 L663.14,121.71 L664.19,120.62 L665.21,119.50 L666.21,118.36 L667.18,117.21 L668.12,116.05 L669.03,114.88 L669.93,113.69 L670.81,112.47 L671.67,111.24 L672.51,109.99 L673.33,108.73 L674.14,107.46 L674.94,106.18 L675.73,104.90 L676.51,103.61 L677.28,102.33 L678.04,101.04 L678.78,99.74 L679.51,98.43 L680.23,97.11 L680.94,95.79 L681.64,94.46 L682.33,93.13 L683.02,91.80 L683.71,90.46 L684.39,89.12 L685.08,87.79 L685.76,86.45 L686.45,85.12 L687.14,83.79 L687.82,82.45 L688.51,81.12 L689.19,79.78 L689.87,78.44 L690.54,77.10 L691.21,75.76 L691.88,74.41 L692.54,73.07 L693.20,71.72 L693.85,70.37 L694.49,69.01 L695.13,67.66 L695.76,66.30 L696.37,64.93 L696.98,63.55 L697.00,63.50" fill="none" stroke="#00ffff" stroke-width="3.0" stroke-linejoin="round" clip-path="url(#cp2)"/>
<path d="M480.00,139.00 L481.50,139.00 L483.00,139.00 L484.50,139.00 L486.00,139.00 L487.50,139.00 L489.00,139.00 L490.50,138.99 L492.00,138.99 L493.50,138.99 L495.00,138.99 L496.50,138.99 L498.00,138.98 L499.50,138.98 L501.00,138.98 L502.50,138.98 L504.00,138.97 L505.50,138.97 L507.00,138.97 L508.50,138.96 L510.00,138.96 L511.50,138.95 L513.00,138.95 L514.50,138.95 L516.00,138.94 L517.50,138.94 L519.00,138.93 L520.50,138.93 L522.00,138.93 L523.50,138.92 L525.00,138.92 L526.50,138.91 L528.00,138.91 L529.50,138.90 L531.00,138.90 L532.50,138.89 L534.00,138.88 L535.50,138.88 L537.00,138.87 L538.50,138.86 L540.00,138.85 L541.50,138.84 L543.00,138.83 L544.50,138.82 L546.00,138.81 L547.50,138.80 L549.00,138.79 L550.50,138.78 L552.00,138.76 L553.50,138.75 L555.00,138.74 L556.50,138.73 L558.00,138.72 L559.50,138.70 L561.00,138.69 L562.50,138.68 L564.00,138.67 L565.50,138.66 L567.00,138.65 L568.50,138.64 L570.00,138.63 L571.50,138.61 L573.00,138.60 L574.50,138.58 L576.00,138.56 L577.50,138.54 L579.00,138.52 L580.50,138.49 L582.00,138.44 L583.49,138.37 L584.99,138.28 L586.49,138.18 L587.99,138.06 L589.48,137.93 L590.98,137.79 L592.47,137.65 L593.96,137.50 L595.45,137.34 L596.94,137.14 L598.42,136.92 L599.90,136.68 L601.38,136.43 L602.86,136.18 L604.34,135.92 L605.82,135.67 L607.30,135.44 L608.79,135.23 L610.27,135.02 L611.76,134.81 L613.24,134.60 L614.73,134.40 L616.22,134.20 L617.70,133.99 L619.19,133.79 L620.68,133.59 L622.16,133.39 L623.65,133.19 L625.14,132.98 L626.62,132.78 L628.11,132.59 L629.61,132.41 L631.10,132.22 L632.59,132.04 L634.08,131.85 L635.57,131.64 L637.05,131.43 L638.53,131.19 L640.00,130.93 L641.46,130.64 L642.92,130.28 L644.37,129.88 L645.81,129.45 L647.25,129.01 L648.68,128.55 L650.08,128.03 L651.44,127.41 L652.78,126.72 L654.09,125.97 L655.35,125.17 L656.55,124.29 L657.72,123.34 L658.89,122.39 L660.08,121.47 L661.30,120.56 L662.52,119.66 L663.74,118.75 L664.93,117.82 L666.07,116.86 L667.15,115.86 L668.16,114.81 L669.12,113.70 L670.05,112.54 L670.95,111.34 L671.82,110.12 L672.67,108.86 L673.50,107.59 L674.31,106.30 L675.11,105.01 L675.91,103.72 L676.69,102.44 L677.47,101.16 L678.24,99.88 L678.99,98.58 L679.73,97.28 L680.46,95.97 L681.18,94.65 L681.89,93.33 L682.60,92.00 L683.30,90.67 L683.99,89.34 L684.69,88.01 L685.38,86.67 L686.08,85.34 L686.77,84.02 L687.47,82.69 L688.16,81.35 L688.85,80.02 L689.53,78.69 L690.22,77.35 L690.89,76.01 L691.57,74.67 L692.23,73.33 L692.89,71.98 L693.55,70.63 L694.19,69.27 L694.83,67.92 L695.46,66.56 L696.06,65.19 L696.66,63.81 L697.00,63.00" fill="none" stroke="#000" stroke-width="3.0" stroke-linejoin="round" clip-path="url(#cp2)"/>
<path d="M480.00,128.90 L481.50,128.90 L483.00,128.90 L484.50,128.90 L486.00,128.90 L487.50,128.89 L489.00,128.89 L490.50,128.89 L492.00,128.89 L493.50,128.88 L495.00,128.88 L496.50,128.87 L498.00,128.87 L499.50,128.86 L501.00,128.86 L502.50,128.85 L504.00,128.84 L505.50,128.84 L507.00,128.83 L508.50,128.82 L510.00,128.82 L511.50,128.81 L513.00,128.80 L514.50,128.79 L516.00,128.79 L517.50,128.78 L519.00,128.77 L520.50,128.76 L522.00,128.75 L523.50,128.74 L525.00,128.73 L526.50,128.72 L528.00,128.71 L529.50,128.70 L531.00,128.69 L532.50,128.68 L534.00,128.67 L535.50,128.66 L537.00,128.64 L538.50,128.62 L540.00,128.61 L541.50,128.59 L543.00,128.57 L544.50,128.55 L546.00,128.53 L547.50,128.51 L549.00,128.48 L550.50,128.46 L552.00,128.44 L553.50,128.41 L555.00,128.39 L556.50,128.36 L558.00,128.33 L559.50,128.31 L561.00,128.28 L562.50,128.26 L564.00,128.23 L565.50,128.20 L567.00,128.17 L568.50,128.14 L570.00,128.11 L571.50,128.08 L573.00,128.04 L574.50,128.01 L576.00,127.97 L577.50,127.92 L579.00,127.88 L580.49,127.83 L581.99,127.78 L583.49,127.72 L584.99,127.66 L586.48,127.57 L587.98,127.47 L589.48,127.36 L590.97,127.23 L592.47,127.10 L593.96,126.95 L595.46,126.80 L596.95,126.66 L598.44,126.50 L599.93,126.32 L601.42,126.13 L602.90,125.93 L604.39,125.75 L605.88,125.58 L607.37,125.42 L608.87,125.27 L610.36,125.13 L611.85,124.98 L613.35,124.84 L614.84,124.69 L616.33,124.54 L617.82,124.39 L619.31,124.22 L620.80,124.05 L622.29,123.87 L623.78,123.70 L625.27,123.54 L626.77,123.38 L628.26,123.24 L629.76,123.10 L631.26,122.97 L632.75,122.84 L634.25,122.70 L635.74,122.54 L637.22,122.37 L638.70,122.17 L640.18,121.93 L641.66,121.65 L643.13,121.33 L644.59,120.99 L646.05,120.64 L647.50,120.27 L648.95,119.88 L650.40,119.46 L651.83,119.00 L653.24,118.51 L654.64,117.98 L656.03,117.41 L657.41,116.79 L658.76,116.14 L660.09,115.45 L661.38,114.71 L662.66,113.91 L663.91,113.07 L665.13,112.21 L666.36,111.33 L667.59,110.44 L668.79,109.51 L669.93,108.54 L670.97,107.52 L671.95,106.43 L672.89,105.29 L673.78,104.10 L674.65,102.88 L675.49,101.62 L676.31,100.34 L677.13,99.05 L677.93,97.76 L678.73,96.47 L679.55,95.20 L680.37,93.94 L681.19,92.69 L682.00,91.43 L682.81,90.16 L683.62,88.90 L684.42,87.62 L685.21,86.35 L685.99,85.07 L686.76,83.78 L687.53,82.49 L688.29,81.20 L689.06,79.91 L689.82,78.62 L690.59,77.32 L691.35,76.02 L692.09,74.71 L692.82,73.40 L693.52,72.07 L694.20,70.74 L694.85,69.39 L695.46,68.03 L696.03,66.65 L696.56,65.24 L697.00,64.00" fill="none" stroke="#ff0000" stroke-width="3.0" stroke-linejoin="round" stroke-dasharray="13.3 7.6" stroke-dashoffset="0.00" clip-path="url(#cp2)"/>
<path d="M480.00,109.70 L481.50,109.70 L483.00,109.70 L484.50,109.70 L486.00,109.70 L487.50,109.70 L489.00,109.69 L490.50,109.69 L492.00,109.69 L493.50,109.69 L495.00,109.68 L496.50,109.68 L498.00,109.68 L499.50,109.67 L501.00,109.67 L502.50,109.66 L504.00,109.66 L505.50,109.66 L507.00,109.65 L508.50,109.65 L510.00,109.64 L511.50,109.63 L513.00,109.63 L514.50,109.62 L516.00,109.62 L517.50,109.61 L519.00,109.60 L520.50,109.60 L522.00,109.59 L523.50,109.58 L525.00,109.57 L526.50,109.55 L528.00,109.54 L529.50,109.52 L531.00,109.50 L532.50,109.49 L534.00,109.47 L535.50,109.44 L537.00,109.42 L538.50,109.40 L540.00,109.37 L541.50,109.35 L543.00,109.32 L544.50,109.30 L546.00,109.27 L547.50,109.24 L549.00,109.22 L550.50,109.19 L552.00,109.16 L553.50,109.13 L555.00,109.11 L556.50,109.07 L558.00,109.04 L559.50,109.01 L561.00,108.98 L562.50,108.94 L564.00,108.90 L565.50,108.87 L567.00,108.83 L568.50,108.78 L570.00,108.74 L571.49,108.70 L572.99,108.65 L574.49,108.60 L575.99,108.55 L577.49,108.50 L578.99,108.44 L580.49,108.39 L581.99,108.33 L583.49,108.27 L584.98,108.21 L586.48,108.13 L587.98,108.05 L589.48,107.96 L590.97,107.86 L592.47,107.74 L593.96,107.63 L595.46,107.51 L596.96,107.39 L598.45,107.26 L599.94,107.13 L601.44,106.99 L602.93,106.84 L604.42,106.69 L605.91,106.53 L607.41,106.37 L608.90,106.21 L610.39,106.05 L611.88,105.90 L613.37,105.74 L614.86,105.57 L616.35,105.41 L617.85,105.25 L619.34,105.08 L620.83,104.92 L622.32,104.76 L623.81,104.60 L625.30,104.45 L626.80,104.30 L628.29,104.16 L629.79,104.02 L631.28,103.88 L632.77,103.73 L634.26,103.57 L635.75,103.40 L637.24,103.22 L638.73,103.02 L640.21,102.82 L641.70,102.60 L643.19,102.36 L644.67,102.12 L646.15,101.86 L647.62,101.58 L649.09,101.29 L650.55,100.97 L652.01,100.63 L653.46,100.26 L654.92,99.86 L656.36,99.44 L657.80,99.00 L659.23,98.53 L660.65,98.05 L662.06,97.55 L663.46,97.04 L664.88,96.49 L666.31,95.93 L667.72,95.33 L669.11,94.69 L670.47,94.03 L671.78,93.32 L673.04,92.57 L674.23,91.77 L675.37,90.88 L676.47,89.91 L677.54,88.85 L678.58,87.74 L679.59,86.58 L680.58,85.40 L681.53,84.20 L682.47,83.00 L683.39,81.83 L684.28,80.63 L685.14,79.40 L685.97,78.15 L686.79,76.89 L687.59,75.61 L688.38,74.33 L689.17,73.05 L689.95,71.77 L690.71,70.48 L691.47,69.19 L692.22,67.89 L692.96,66.58 L693.69,65.27 L694.41,63.95 L695.12,62.63 L695.82,61.31 L696.51,59.97 L697.00,59.00" fill="none" stroke="#000" stroke-width="3.0" stroke-linejoin="round" stroke-dasharray="3.0 10.0" stroke-dashoffset="0.00" clip-path="url(#cp2)"/>
<path d="M78.34,275.5 v-5.4 M78.34,14.5 v5.4 M97.47,275.5 v-5.4 M97.47,14.5 v5.4 M111.03,275.5 v-5.4 M111.03,14.5 v5.4 M121.56,275.5 v-5.4 M121.56,14.5 v5.4 M130.16,275.5 v-5.4 M130.16,14.5 v5.4 M137.43,275.5 v-5.4 M137.43,14.5 v5.4 M143.73,275.5 v-5.4 M143.73,14.5 v5.4 M149.28,275.5 v-5.4 M149.28,14.5 v5.4 M154.25,275.5 v-12.2 M154.25,14.5 v12.2 M186.94,275.5 v-5.4 M186.94,14.5 v5.4 M206.07,275.5 v-5.4 M206.07,14.5 v5.4 M219.63,275.5 v-5.4 M219.63,14.5 v5.4 M230.16,275.5 v-5.4 M230.16,14.5 v5.4 M238.76,275.5 v-5.4 M238.76,14.5 v5.4 M246.03,275.5 v-5.4 M246.03,14.5 v5.4 M252.33,275.5 v-5.4 M252.33,14.5 v5.4 M257.88,275.5 v-5.4 M257.88,14.5 v5.4 M45.65,255.86 h3.4 M262.78,255.86 h-3.4 M45.65,244.37 h3.4 M262.78,244.37 h-3.4 M45.65,236.22 h3.4 M262.78,236.22 h-3.4 M45.65,229.89 h3.4 M262.78,229.89 h-3.4 M45.65,224.73 h3.4 M262.78,224.73 h-3.4 M45.65,220.36 h3.4 M262.78,220.36 h-3.4 M45.65,216.57 h3.4 M262.78,216.57 h-3.4 M45.65,213.24 h3.4 M262.78,213.24 h-3.4 M45.65,210.25 h8.3 M262.78,210.25 h-8.3 M45.65,190.61 h3.4 M262.78,190.61 h-3.4 M45.65,179.12 h3.4 M262.78,179.12 h-3.4 M45.65,170.97 h3.4 M262.78,170.97 h-3.4 M45.65,164.64 h3.4 M262.78,164.64 h-3.4 M45.65,159.48 h3.4 M262.78,159.48 h-3.4 M45.65,155.11 h3.4 M262.78,155.11 h-3.4 M45.65,151.32 h3.4 M262.78,151.32 h-3.4 M45.65,147.99 h3.4 M262.78,147.99 h-3.4 M45.65,145.00 h8.3 M262.78,145.00 h-8.3 M45.65,125.36 h3.4 M262.78,125.36 h-3.4 M45.65,113.87 h3.4 M262.78,113.87 h-3.4 M45.65,105.72 h3.4 M262.78,105.72 h-3.4 M45.65,99.39 h3.4 M262.78,99.39 h-3.4 M45.65,94.23 h3.4 M262.78,94.23 h-3.4 M45.65,89.86 h3.4 M262.78,89.86 h-3.4 M45.65,86.07 h3.4 M262.78,86.07 h-3.4 M45.65,82.74 h3.4 M262.78,82.74 h-3.4 M45.65,79.75 h8.3 M262.78,79.75 h-8.3 M45.65,60.11 h3.4 M262.78,60.11 h-3.4 M45.65,48.62 h3.4 M262.78,48.62 h-3.4 M45.65,40.47 h3.4 M262.78,40.47 h-3.4 M45.65,34.14 h3.4 M262.78,34.14 h-3.4 M45.65,28.98 h3.4 M262.78,28.98 h-3.4 M45.65,24.61 h3.4 M262.78,24.61 h-3.4 M45.65,20.82 h3.4 M262.78,20.82 h-3.4 M45.65,17.49 h3.4 M262.78,17.49 h-3.4 M295.47,275.5 v-5.4 M295.47,14.5 v5.4 M314.60,275.5 v-5.4 M314.60,14.5 v5.4 M328.16,275.5 v-5.4 M328.16,14.5 v5.4 M338.69,275.5 v-5.4 M338.69,14.5 v5.4 M347.29,275.5 v-5.4 M347.29,14.5 v5.4 M354.56,275.5 v-5.4 M354.56,14.5 v5.4 M360.86,275.5 v-5.4 M360.86,14.5 v5.4 M366.41,275.5 v-5.4 M366.41,14.5 v5.4 M371.38,275.5 v-12.2 M371.38,14.5 v12.2 M404.07,275.5 v-5.4 M404.07,14.5 v5.4 M423.20,275.5 v-5.4 M423.20,14.5 v5.4 M436.76,275.5 v-5.4 M436.76,14.5 v5.4 M447.29,275.5 v-5.4 M447.29,14.5 v5.4 M455.89,275.5 v-5.4 M455.89,14.5 v5.4 M463.16,275.5 v-5.4 M463.16,14.5 v5.4 M469.46,275.5 v-5.4 M469.46,14.5 v5.4 M475.01,275.5 v-5.4 M475.01,14.5 v5.4 M262.78,255.86 h3.4 M480.0,255.86 h-3.4 M262.78,244.37 h3.4 M480.0,244.37 h-3.4 M262.78,236.22 h3.4 M480.0,236.22 h-3.4 M262.78,229.89 h3.4 M480.0,229.89 h-3.4 M262.78,224.73 h3.4 M480.0,224.73 h-3.4 M262.78,220.36 h3.4 M480.0,220.36 h-3.4 M262.78,216.57 h3.4 M480.0,216.57 h-3.4 M262.78,213.24 h3.4 M480.0,213.24 h-3.4 M262.78,210.25 h8.3 M480.0,210.25 h-8.3 M262.78,190.61 h3.4 M480.0,190.61 h-3.4 M262.78,179.12 h3.4 M480.0,179.12 h-3.4 M262.78,170.97 h3.4 M480.0,170.97 h-3.4 M262.78,164.64 h3.4 M480.0,164.64 h-3.4 M262.78,159.48 h3.4 M480.0,159.48 h-3.4 M262.78,155.11 h3.4 M480.0,155.11 h-3.4 M262.78,151.32 h3.4 M480.0,151.32 h-3.4 M262.78,147.99 h3.4 M480.0,147.99 h-3.4 M262.78,145.00 h8.3 M480.0,145.00 h-8.3 M262.78,125.36 h3.4 M480.0,125.36 h-3.4 M262.78,113.87 h3.4 M480.0,113.87 h-3.4 M262.78,105.72 h3.4 M480.0,105.72 h-3.4 M262.78,99.39 h3.4 M480.0,99.39 h-3.4 M262.78,94.23 h3.4 M480.0,94.23 h-3.4 M262.78,89.86 h3.4 M480.0,89.86 h-3.4 M262.78,86.07 h3.4 M480.0,86.07 h-3.4 M262.78,82.74 h3.4 M480.0,82.74 h-3.4 M262.78,79.75 h8.3 M480.0,79.75 h-8.3 M262.78,60.11 h3.4 M480.0,60.11 h-3.4 M262.78,48.62 h3.4 M480.0,48.62 h-3.4 M262.78,40.47 h3.4 M480.0,40.47 h-3.4 M262.78,34.14 h3.4 M480.0,34.14 h-3.4 M262.78,28.98 h3.4 M480.0,28.98 h-3.4 M262.78,24.61 h3.4 M480.0,24.61 h-3.4 M262.78,20.82 h3.4 M480.0,20.82 h-3.4 M262.78,17.49 h3.4 M480.0,17.49 h-3.4 M512.69,275.5 v-5.4 M512.69,14.5 v5.4 M531.82,275.5 v-5.4 M531.82,14.5 v5.4 M545.38,275.5 v-5.4 M545.38,14.5 v5.4 M555.91,275.5 v-5.4 M555.91,14.5 v5.4 M564.51,275.5 v-5.4 M564.51,14.5 v5.4 M571.78,275.5 v-5.4 M571.78,14.5 v5.4 M578.08,275.5 v-5.4 M578.08,14.5 v5.4 M583.63,275.5 v-5.4 M583.63,14.5 v5.4 M588.60,275.5 v-12.2 M588.60,14.5 v12.2 M621.29,275.5 v-5.4 M621.29,14.5 v5.4 M640.42,275.5 v-5.4 M640.42,14.5 v5.4 M653.98,275.5 v-5.4 M653.98,14.5 v5.4 M664.51,275.5 v-5.4 M664.51,14.5 v5.4 M673.11,275.5 v-5.4 M673.11,14.5 v5.4 M680.38,275.5 v-5.4 M680.38,14.5 v5.4 M686.68,275.5 v-5.4 M686.68,14.5 v5.4 M692.23,275.5 v-5.4 M692.23,14.5 v5.4 M480.0,255.86 h3.4 M697.2,255.86 h-3.4 M480.0,244.37 h3.4 M697.2,244.37 h-3.4 M480.0,236.22 h3.4 M697.2,236.22 h-3.4 M480.0,229.89 h3.4 M697.2,229.89 h-3.4 M480.0,224.73 h3.4 M697.2,224.73 h-3.4 M480.0,220.36 h3.4 M697.2,220.36 h-3.4 M480.0,216.57 h3.4 M697.2,216.57 h-3.4 M480.0,213.24 h3.4 M697.2,213.24 h-3.4 M480.0,210.25 h8.3 M697.2,210.25 h-8.3 M480.0,190.61 h3.4 M697.2,190.61 h-3.4 M480.0,179.12 h3.4 M697.2,179.12 h-3.4 M480.0,170.97 h3.4 M697.2,170.97 h-3.4 M480.0,164.64 h3.4 M697.2,164.64 h-3.4 M480.0,159.48 h3.4 M697.2,159.48 h-3.4 M480.0,155.11 h3.4 M697.2,155.11 h-3.4 M480.0,151.32 h3.4 M697.2,151.32 h-3.4 M480.0,147.99 h3.4 M697.2,147.99 h-3.4 M480.0,145.00 h8.3 M697.2,145.00 h-8.3 M480.0,125.36 h3.4 M697.2,125.36 h-3.4 M480.0,113.87 h3.4 M697.2,113.87 h-3.4 M480.0,105.72 h3.4 M697.2,105.72 h-3.4 M480.0,99.39 h3.4 M697.2,99.39 h-3.4 M480.0,94.23 h3.4 M697.2,94.23 h-3.4 M480.0,89.86 h3.4 M697.2,89.86 h-3.4 M480.0,86.07 h3.4 M697.2,86.07 h-3.4 M480.0,82.74 h3.4 M697.2,82.74 h-3.4 M480.0,79.75 h8.3 M697.2,79.75 h-8.3 M480.0,60.11 h3.4 M697.2,60.11 h-3.4 M480.0,48.62 h3.4 M697.2,48.62 h-3.4 M480.0,40.47 h3.4 M697.2,40.47 h-3.4 M480.0,34.14 h3.4 M697.2,34.14 h-3.4 M480.0,28.98 h3.4 M697.2,28.98 h-3.4 M480.0,24.61 h3.4 M697.2,24.61 h-3.4 M480.0,20.82 h3.4 M697.2,20.82 h-3.4 M480.0,17.49 h3.4 M697.2,17.49 h-3.4" stroke="#000" stroke-width="1.35" fill="none"/>
<rect x="45.65" y="14.5" width="217.12999999999997" height="261.0" fill="none" stroke="#000" stroke-width="1.7"/>
<rect x="262.78" y="14.5" width="217.22000000000003" height="261.0" fill="none" stroke="#000" stroke-width="1.7"/>
<rect x="480.0" y="14.5" width="217.20000000000005" height="261.0" fill="none" stroke="#000" stroke-width="1.7"/>
<text x="37.6" y="26.40" font-size="21.3" text-anchor="end">10<tspan font-size="14.8" dy="-13.6">1</tspan></text>
<text x="37.6" y="91.65" font-size="21.3" text-anchor="end">10<tspan font-size="14.8" dy="-13.6">0</tspan></text>
<text x="37.6" y="156.90" font-size="21.3" text-anchor="end">10<tspan font-size="14.8" dy="-13.6">-1</tspan></text>
<text x="37.6" y="222.15" font-size="21.3" text-anchor="end">10<tspan font-size="14.8" dy="-13.6">-2</tspan></text>
<text x="37.6" y="287.40" font-size="21.3" text-anchor="end">10<tspan font-size="14.8" dy="-13.6">-3</tspan></text>
<text x="46.05" y="297.6" font-size="18.8" text-anchor="middle">0.1</text>
<text x="155.25" y="297.6" font-size="18.8" text-anchor="middle">1</text>
<text x="263.18" y="297.6" font-size="18.8" text-anchor="middle">10</text>
<text x="154.85" y="319.5" font-size="19.6" text-anchor="middle">T (GK)</text>
<text x="372.38" y="297.6" font-size="18.8" text-anchor="middle">1</text>
<text x="480.20" y="297.6" font-size="18.8" text-anchor="middle">10</text>
<text x="371.98" y="319.5" font-size="19.6" text-anchor="middle">T (GK)</text>
<text x="589.60" y="297.6" font-size="18.8" text-anchor="middle">1</text>
<text x="697.10" y="297.6" font-size="18.8" text-anchor="middle">10</text>
<text x="589.20" y="319.5" font-size="19.6" text-anchor="middle">T (GK)</text>
<text x="219.05" y="49.3" font-size="24.5">(a)</text>
<text x="436.18" y="49.3" font-size="24.5">(b)</text>
<text x="654.20" y="49.3" font-size="24.5">(c)</text>
<path d="M64.0,39.5 H98.6" stroke="#0000ff" stroke-width="3.0" fill="none" stroke-dasharray="3.0 7.4 13.4 7.4"/>
<path d="M64.0,63.6 H98.6" stroke="#ff0000" stroke-width="3.0" fill="none" stroke-dasharray="13.3 7.6"/>
<path d="M64.0,85.2 H98.6" stroke="#000" stroke-width="3.0" fill="none"/>
<text x="116.3" y="46.5" font-size="15.5">0<tspan font-size="11.00" dy="-8.99" dx="0">+</tspan></text>
<text x="116.3" y="71.0" font-size="15.5">2<tspan font-size="11.00" dy="-8.99" dx="0">+</tspan></text>
<text x="116.5" y="90.6" font-size="15.5">total</text>
<text x="69.6" y="201.6" font-size="21.3">ρ=10<tspan font-size="15.12" dy="-13.10" dx="-1.2">6</tspan></text>
<path d="M294.6,34.7 H329.2" stroke="#0000ff" stroke-width="3.0" fill="none" stroke-dasharray="3.0 7.4 13.4 7.4"/>
<path d="M294.6,50.2 H329.2" stroke="#00ffff" stroke-width="3.0" fill="none"/>
<path d="M294.6,66.3 H329.2" stroke="#000" stroke-width="3.0" fill="none"/>
<path d="M294.6,82.5 H329.2" stroke="#ff0000" stroke-width="3.0" fill="none" stroke-dasharray="13.3 7.6"/>
<path d="M294.6,98.4 H329.2" stroke="#000" stroke-width="3.0" fill="none" stroke-dasharray="3.0 10.0"/>
<text x="338.6" y="39.3" font-size="12.4">β<tspan font-size="8.80" dy="-7.19" dx="0">+</tspan></text>
<text x="338.6" y="55.4" font-size="12.4">cEC ρ=10<tspan font-size="8.80" dy="-7.19" dx="0">5</tspan></text>
<text x="338.6" y="71.5" font-size="12.4">cEC ρ=10<tspan font-size="8.80" dy="-7.19" dx="0">6</tspan></text>
<text x="338.6" y="87.6" font-size="12.4">cEC ρ=10<tspan font-size="8.80" dy="-7.19" dx="0">6.5</tspan></text>
<text x="338.6" y="103.7" font-size="12.4">cEC ρ=10<tspan font-size="8.80" dy="-7.19" dx="0">7</tspan></text>
<path d="M494.2,168.3 H529.0" stroke="#0000ff" stroke-width="3.0" fill="none" stroke-dasharray="3.0 7.4 13.4 7.4"/>
<path d="M494.2,189.0 H529.0" stroke="#00ffff" stroke-width="3.0" fill="none"/>
<path d="M494.2,209.8 H529.0" stroke="#000" stroke-width="3.0" fill="none"/>
<path d="M494.2,230.3 H529.0" stroke="#ff0000" stroke-width="3.0" fill="none" stroke-dasharray="13.3 7.6"/>
<path d="M494.2,250.6 H529.0" stroke="#000" stroke-width="3.0" fill="none" stroke-dasharray="3.0 10.0"/>
<text x="538.4" y="175.2" font-size="15.5">ρ=10<tspan font-size="11.00" dy="-8.99" dx="0">4</tspan></text>
<text x="538.4" y="195.9" font-size="15.5">ρ=10<tspan font-size="11.00" dy="-8.99" dx="0">5</tspan></text>
<text x="538.4" y="216.7" font-size="15.5">ρ=10<tspan font-size="11.00" dy="-8.99" dx="0">6</tspan></text>
<text x="538.4" y="237.2" font-size="15.5">ρ=10<tspan font-size="11.00" dy="-8.99" dx="0">6.5</tspan></text>
<text x="538.4" y="257.5" font-size="15.5">ρ=10<tspan font-size="11.00" dy="-8.99" dx="0">7</tspan></text>
<text x="509.6" y="56.0" font-size="24.5"><tspan font-size="17.4" dy="-15">76</tspan><tspan dy="15" dx="-1.3">Sr</tspan></text>
<text x="520.4" y="86.4" font-size="24.5">λ<tspan font-size="17.4" dy="9.2">tot</tspan></text>
</svg>
</body></html>
